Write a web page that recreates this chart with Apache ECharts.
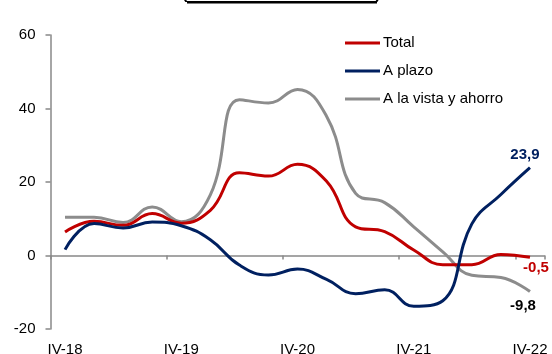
<!DOCTYPE html>
<html>
<head>
<meta charset="utf-8">
<script src="https://cdn.jsdelivr.net/npm/echarts@6/dist/echarts.min.js"></script>
<style>
  html, body { margin: 0; padding: 0; background: #fff; }
  #chart { width: 552px; height: 354px; }
</style>
</head>
<body>
<div id="chart"></div>
<script>
// Quarterly periods, IV-2018 to IV-2022
const quarters = ['IV-18', 'I-19', 'II-19', 'III-19', 'IV-19', 'I-20', 'II-20', 'III-20', 'IV-20',
                  'I-21', 'II-21', 'III-21', 'IV-21', 'I-22', 'II-22', 'III-22', 'IV-22'];
const tickLabels = ['IV-18', 'IV-19', 'IV-20', 'IV-21', 'IV-22'];

// Annual change, %
const total = [6.4, 9.3, 8.2, 11.4, 8.8, 12.3, 22.5, 21.6, 24.8, 20.2, 7.8, 6.5, 1.5, -2.5, -2.5, 0.3, -0.5];
const aPlazo = [1.6, 8.7, 7.5, 9.1, 8.1, 4.3, -2.6, -5.3, -3.7, -6.5, -10.4, -9.3, -13.8, -12.3, 8.6, 16.6, 23.9];
const aLaVista = [10.4, 10.4, 9.0, 13.2, 9.2, 16.5, 42.4, 41.5, 45.2, 37.9, 16.9, 14.4, 7.8, 1.0, -5.4, -6.0, -9.8];

const yTicks = { min: -20, max: 60, step: 20 };

const RED = '#C00000', NAVY = '#002060', GREY = '#8C8C8C', AXIS = '#888888';
const FONT = '"Liberation Sans", Arial, sans-serif';

const fmt = v => v.toFixed(1).replace('.', ',');

// Attach a bold value label to the final point of a series
function withEndLabel(values, color, position, offset) {
  return values.map((v, i) => i < values.length - 1 ? v : {
    value: v,
    label: {
      show: true, position: position, offset: offset, distance: 5,
      formatter: p => fmt(p.value),
      color: color, fontWeight: 'bold', fontSize: 15, fontFamily: FONT
    }
  });
}

function lineSeries(name, values, color, z, pos, offset, labelColor) {
  return {
    name: name, type: 'line', xAxisIndex: 0, yAxisIndex: 0,
    data: withEndLabel(values, labelColor || color, pos, offset),
    smooth: 0.45, symbol: 'circle', symbolSize: 0.01, showSymbol: true, z: z,
    lineStyle: { color: color, width: 3 },
    itemStyle: { color: color },
    emphasis: { disabled: true }
  };
}

const chart = echarts.init(document.getElementById('chart'), null, { renderer: 'canvas' });

chart.setOption({
  animation: false,
  backgroundColor: '#fff',
  textStyle: { fontFamily: FONT },
  grid: { left: 50.5, right: 7.5, top: 35, bottom: 25, containLabel: false, outerBoundsMode: 'none' },
  legend: {
    orient: 'vertical', left: 345, top: 35, padding: 0,
    data: ['Total', 'A plazo', 'A la vista y ahorro'],
    icon: 'rect', itemWidth: 35, itemHeight: 3, itemGap: 12,
    textStyle: { fontSize: 15, color: '#000', lineHeight: 16, fontFamily: FONT, padding: [0, 0, 0, -2] }
  },
  xAxis: [
    {
      // axis line crossing at zero, with ticks between the year blocks
      type: 'category', data: quarters, boundaryGap: true, position: 'bottom',
      axisLine: { show: true, onZero: true, lineStyle: { color: AXIS, width: 1.5 } },
      axisTick: { show: true, interval: 3, length: 4, lineStyle: { color: AXIS, width: 1.5 } },
      axisLabel: { show: false }, splitLine: { show: false }
    },
    {
      // period labels along the bottom edge
      type: 'category', data: quarters, boundaryGap: true, position: 'bottom',
      axisLine: { show: false, onZero: false }, axisTick: { show: false },
      axisLabel: {
        show: true, margin: 13, fontSize: 15, color: '#000', fontFamily: FONT,
        interval: 0,
        formatter: v => tickLabels.includes(v) ? v : ''
      },
      splitLine: { show: false }
    }
  ],
  yAxis: {
    type: 'value', min: yTicks.min, max: yTicks.max, interval: yTicks.step,
    axisLine: { show: true, lineStyle: { color: AXIS, width: 1.5 } },
    axisTick: { show: true, length: 5, lineStyle: { color: AXIS, width: 1.5 } },
    axisLabel: { margin: 15, fontSize: 15, color: '#000', fontFamily: FONT },
    splitLine: { show: false }
  },
  graphic: [
    { type: 'text', left: 182, top: -14, style: { text: '(', fontSize: 17, fontWeight: 'bold', fill: '#000', fontFamily: FONT } },
    { type: 'text', left: 375, top: -14, style: { text: ')', fontSize: 17, fontWeight: 'bold', fill: '#000', fontFamily: FONT } },
    { type: 'rect', shape: { x: 187, y: 1, width: 190, height: 2.5 }, style: { fill: '#000' } }
  ],
  series: [
    lineSeries('A la vista y ahorro', aLaVista, GREY, 2, 'bottom', [-7, 2], '#000'),
    lineSeries('Total', total, RED, 3, 'bottom', [6, -2], RED),
    lineSeries('A plazo', aPlazo, NAVY, 4, 'top', [-5, 0], NAVY)
  ]
});
</script>
</body>
</html>
